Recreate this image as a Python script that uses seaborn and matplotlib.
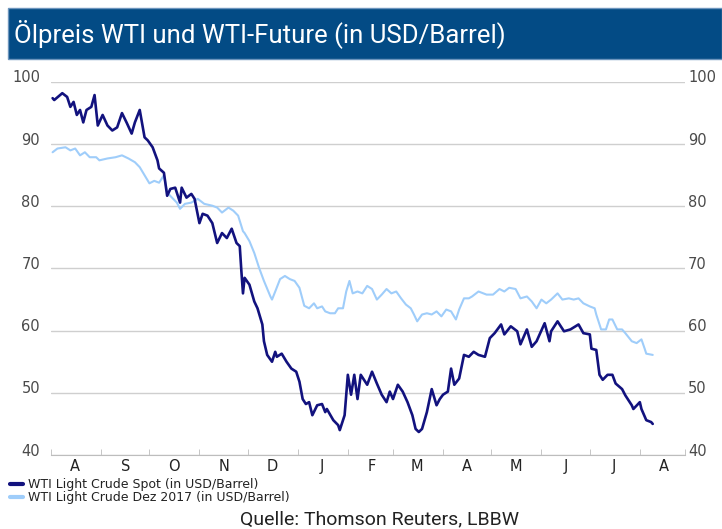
import pandas as pd
import matplotlib.pyplot as plt
import matplotlib.transforms as mtransforms
from matplotlib.patches import Rectangle
import seaborn as sns

# days since 2014-08-01
spot_days = [1, 2, 7, 10, 12, 14, 16, 18, 20, 22, 25, 27, 29, 32, 35, 38, 41, 44, 47, 50,
             52, 55, 58, 60, 63, 66, 67, 70, 72, 74, 77, 80, 81, 84, 87, 89, 92, 94, 97, 100,
             103, 106, 109, 112, 115, 117, 118, 119, 120, 123, 126, 128, 131, 132, 134, 137,
             139, 140, 143, 146, 149, 152, 154, 156, 158, 160, 162, 165, 168, 170, 171, 175,
             178, 179, 182, 184, 186, 188, 190, 192, 196, 199, 202, 205, 208, 210, 212, 215,
             218, 221, 224, 226, 228, 230, 233, 236, 239, 241, 243, 246, 248, 250, 253, 256,
             259, 262, 265, 269, 272, 275, 279, 281, 285, 289, 291, 295, 298, 301, 306, 309,
             310, 314, 318, 322, 327, 330, 334, 335, 338, 340, 342, 345, 348, 350, 354, 356,
             360, 361, 365, 366, 369, 372, 373]
spot = [97.4, 97.1, 98.2, 97.6, 96.0, 96.8, 94.7, 95.5, 93.5, 95.5, 96.0, 97.9, 93.0, 94.7,
        93.0, 92.2, 92.7, 95.0, 93.4, 91.7, 93.5, 95.5, 91.1, 90.6, 89.5, 87.4, 86.1, 85.4,
        81.7, 82.8, 83.0, 80.6, 83.0, 81.4, 82.0, 81.2, 77.3, 78.8, 78.5, 77.3, 74.1, 75.7,
        74.9, 76.4, 74.1, 73.6, 69.6, 66.0, 68.5, 67.4, 64.7, 63.6, 61.0, 58.3, 56.1, 55.0,
        56.6, 55.8, 56.3, 55.0, 53.9, 53.4, 51.8, 49.0, 48.2, 48.5, 46.4, 48.0, 48.2, 46.9,
        47.4, 45.6, 44.8, 44.0, 46.4, 52.9, 49.7, 52.9, 49.0, 52.9, 51.3, 53.4, 51.5, 49.7,
        48.5, 50.2, 49.0, 51.3, 50.2, 48.5, 46.4, 44.2, 43.7, 44.2, 46.9, 50.6, 48.0, 49.0,
        49.7, 50.2, 53.9, 51.3, 52.3, 56.1, 55.8, 56.6, 56.1, 55.8, 58.8, 59.6, 61.0, 59.4,
        60.7, 59.9, 57.8, 60.2, 57.4, 58.3, 61.2, 58.3, 59.9, 61.5, 59.9, 60.2, 61.0, 59.6,
        59.4, 57.1, 56.9, 52.9, 52.1, 52.9, 52.9, 51.5, 50.6, 49.6, 48.0, 47.4, 48.5, 47.4,
        45.6, 45.3, 45.0]

future_days = [1, 4, 9, 12, 15, 18, 21, 24, 28, 30, 35, 40, 44, 48, 52, 55, 58, 61, 64, 67,
               70, 72, 75, 78, 80, 83, 87, 91, 95, 100, 103, 106, 110, 113, 116, 119, 120, 123,
               126, 129, 132, 136, 137, 139, 142, 145, 148, 151, 154, 157, 160, 163, 165, 168,
               170, 173, 176, 178, 181, 183, 185, 187, 190, 193, 196, 199, 202, 205, 208, 211,
               214, 217, 220, 223, 225, 227, 230, 233, 236, 239, 242, 245, 248, 251, 253, 256,
               259, 261, 265, 270, 274, 278, 281, 284, 288, 291, 295, 298, 301, 304, 307, 310,
               314, 317, 321, 324, 327, 330, 334, 337, 338, 341, 344, 346, 348, 351, 354, 356,
               360, 363, 366, 368, 369, 373]
future = [88.7, 89.3, 89.5, 89.0, 89.3, 88.2, 88.7, 87.9, 87.9, 87.4, 87.7, 87.9, 88.2, 87.7,
          87.1, 86.3, 85.0, 83.7, 84.1, 83.8, 85.0, 82.2, 81.4, 80.6, 79.6, 80.4, 80.6, 81.2,
          80.4, 80.1, 79.8, 79.0, 79.8, 79.3, 78.5, 76.0, 75.7, 74.4, 72.5, 70.1, 68.0, 65.5,
          65.0, 66.3, 68.3, 68.8, 68.3, 68.0, 66.9, 64.0, 63.6, 64.4, 63.6, 63.9, 63.1, 62.8,
          62.8, 63.6, 63.6, 66.3, 68.0, 66.0, 66.3, 66.0, 67.2, 66.7, 65.0, 65.8, 66.7, 66.0,
          66.3, 65.2, 64.2, 63.6, 62.6, 61.5, 62.6, 62.8, 62.6, 63.1, 62.3, 63.4, 63.1, 61.8,
          63.4, 65.2, 65.2, 65.5, 66.3, 65.8, 65.8, 66.7, 66.3, 66.9, 66.7, 65.2, 65.5, 64.7,
          63.6, 65.0, 64.4, 65.0, 66.0, 65.0, 65.2, 65.0, 65.2, 64.4, 63.9, 63.6, 62.6, 60.2,
          60.2, 61.8, 61.8, 60.2, 60.2, 59.6, 58.3, 58.0, 58.6, 57.1, 56.3, 56.1]

month_labels = ['A', 'S', 'O', 'N', 'D', 'J', 'F', 'M', 'A', 'M', 'J', 'J', 'A']
y_ticks = [40, 50, 60, 70, 80, 90, 100]
spot_label = 'WTI Light Crude Spot (in USD/Barrel)'
future_label = 'WTI Light Crude Dez 2017 (in USD/Barrel)'

start = pd.Timestamp('2014-08-01')
df_spot = pd.DataFrame({'date': start + pd.to_timedelta(spot_days, unit='D'), 'value': spot})
df_fut = pd.DataFrame({'date': start + pd.to_timedelta(future_days, unit='D'), 'value': future})

sns.set_style('white')
plt.rcParams['font.family'] = ['DejaVu Sans']

fig = plt.figure(figsize=(7.22, 5.29), dpi=100)
ax = fig.add_axes([51 / 722, 1 - 455 / 529, 634 / 722, 373 / 529])

sns.lineplot(data=df_fut, x='date', y='value', ax=ax, color='#9fcdfa', lw=1.5, label=future_label)
sns.lineplot(data=df_spot, x='date', y='value', ax=ax, color='#12127e', lw=1.9, label=spot_label)

ax.set_ylim(40, 100)
ax.set_xlim(start, pd.Timestamp('2015-08-29'))
ax.set_yticks(y_ticks)
ax.set_yticklabels([])
ax.tick_params(axis='y', length=0)
ax.yaxis.grid(True, color='#cfcfcf', lw=1)
ax.set_axisbelow(True)
ax.set_xlabel('')
ax.set_ylabel('')
for s in ['top', 'left', 'right']:
    ax.spines[s].set_visible(False)
ax.spines['bottom'].set_color('#bdbdbd')

# y labels on both sides, sitting a little above the grid lines
up = mtransforms.ScaledTranslation(0, 4 / 100, fig.dpi_scale_trans)
ytrans = ax.get_yaxis_transform() + up
for v in y_ticks:
    ax.text(-11 / 634, v, str(v), transform=ytrans, ha='right', va='center',
            fontsize=10.5, color='#4a4a4a', family='DejaVu Sans')
    ax.text(1 + 3 / 634, v, str(v), transform=ytrans, ha='left', va='center',
            fontsize=10.5, color='#4a4a4a', family='DejaVu Sans')

# month ticks at month starts, labels at mid-month
month_starts = pd.date_range('2014-08-01', '2015-08-01', freq='MS')
ax.set_xticks(month_starts.tolist() + [pd.Timestamp('2015-08-29')], minor=True)
ax.set_xticks([d + pd.Timedelta(days=15) for d in month_starts])
ax.set_xticklabels(month_labels, family='DejaVu Sans')
ax.tick_params(axis='x', which='major', length=0, labelsize=10.5, labelcolor='#222222', pad=3)
ax.tick_params(axis='x', which='minor', direction='in', length=4, color='#bdbdbd', bottom=True)

handles, labels = ax.get_legend_handles_labels()
leg = fig.legend(handles[::-1], labels[::-1], loc='upper left', bbox_to_anchor=(4 / 722, 1 - 472 / 529),
                 frameon=False, prop={'family': 'DejaVu Sans', 'size': 9}, handlelength=1.0,
                 handletextpad=0.4, labelspacing=0.0, borderpad=0)
for line in leg.get_lines():
    line.set_linewidth(3)
for txt in leg.get_texts():
    txt.set_color('#222222')
ax.get_legend().remove()

# title bar
fig.patches.append(Rectangle((8 / 722, 1 - 59 / 529), 714 / 722, 51 / 529, transform=fig.transFigure,
                             facecolor='#034b85', edgecolor='#6d95bd', lw=1))
fig.text(14 / 722, 1 - 34 / 529, 'Ölpreis WTI und WTI-Future (in USD/Barrel)', color='white',
         fontsize=18.5, va='center', ha='left', family=['Roboto', 'DejaVu Sans'])

fig.text(380 / 722, 1 - 519 / 529, 'Quelle: Thomson Reuters, LBBW', color='#222222',
         fontsize=14, va='center', ha='center', family=['Roboto', 'DejaVu Sans'])

fig.savefig('out.png', dpi=100)
